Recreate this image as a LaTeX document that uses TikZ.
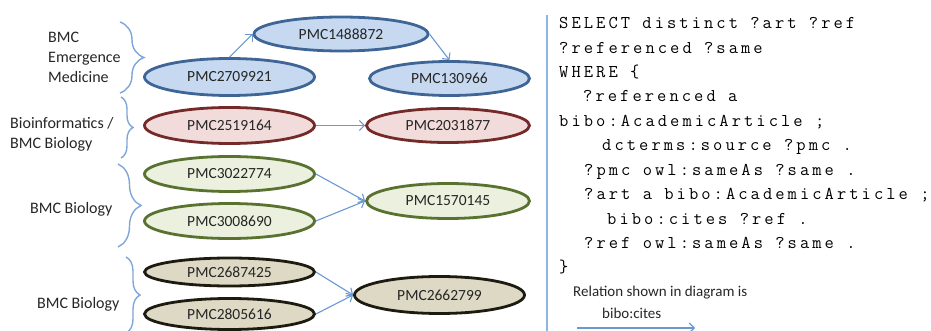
\documentclass[tikz,border=0pt]{standalone}
\usepackage{fontspec}
\setmainfont{Carlito}
\newfontfamily\codefont[LetterSpace=17]{Latin Modern Mono}
\usetikzlibrary{shapes.geometric,arrows.meta,decorations.pathreplacing}
\definecolor{bfill}{HTML}{C6D9F1}
\definecolor{bdraw}{HTML}{3E6596}
\definecolor{rfill}{HTML}{F2DCDB}
\definecolor{rdraw}{HTML}{732A28}
\definecolor{gfill}{HTML}{EBF1DE}
\definecolor{gdraw}{HTML}{5A7230}
\definecolor{tfill}{HTML}{DDD9C4}
\definecolor{tdraw}{HTML}{1D1B10}
\definecolor{arrowc}{HTML}{6A98D2}
\definecolor{bracec}{HTML}{7FA6D9}
\definecolor{sepc}{HTML}{8EB4E3}
\definecolor{txt}{HTML}{262626}
\tikzset{
  pmc/.style={ellipse, line width=2.8pt, inner sep=0pt, text=txt,
    font=\fontsize{15.5}{18}\selectfont},
  bluenode/.style={pmc, draw=bdraw, fill=bfill},
  rednode/.style={pmc, draw=rdraw, fill=rfill},
  greennode/.style={pmc, draw=gdraw, fill=gfill},
  tannode/.style={pmc, draw=tdraw, fill=tfill},
  cite/.style={draw=arrowc, line width=1.1pt, -{Straight Barb[length=5pt,width=10pt]}},
  bracestyle/.style={draw=bracec, line width=1.4pt, decorate},
  lab/.style={anchor=base west, inner sep=0pt, text=txt, font=\fontsize{16}{19}\selectfont},
  code/.style={anchor=base west, inner sep=0pt, text=black, font=\codefont\fontsize{18}{24}\selectfont},
  note/.style={anchor=base west, inner sep=0pt, text=txt, font=\fontsize{15}{18}\selectfont},
}
\begin{document}
\begin{tikzpicture}[x=1pt,y=-1pt]
\useasboundingbox (0,0) rectangle (931,331);
% ellipses
\node[bluenode, minimum width=174pt, minimum height=34pt] (A1) at (341,34) {PMC1488872};
\node[bluenode, minimum width=170pt, minimum height=37pt] (A2) at (229.5,77) {PMC2709921};
\node[bluenode, minimum width=160pt, minimum height=34pt] (A3) at (449.5,78.5) {PMC130966};
\node[rednode, minimum width=170pt, minimum height=36pt] (R1) at (229.5,125.5) {PMC2519164};
\node[rednode, minimum width=163pt, minimum height=34pt] (R2) at (448,125.5) {PMC2031877};
\node[greennode, minimum width=170pt, minimum height=35pt] (G1) at (229.5,174) {PMC3022774};
\node[greennode, minimum width=170pt, minimum height=35pt] (G2) at (229.5,221) {PMC3008690};
\node[greennode, minimum width=163pt, minimum height=35pt] (G3) at (448,201) {PMC1570145};
\node[tannode, minimum width=170pt, minimum height=28pt] (T1) at (229.5,272) {PMC2687425};
\node[tannode, minimum width=170pt, minimum height=31pt] (T2) at (229.5,314) {PMC2805616};
\node[tannode, minimum width=170pt, minimum height=37pt] (T3) at (439.5,295) {PMC2662799};
% citations
\draw[cite] (A2.north) -- (A1.west);
\draw[cite] (A1.east) -- (A3.north);
\draw[cite] (R1.east) -- (R2.west);
\draw[cite] (G1.east) -- (G3.west);
\draw[cite] (G2.east) -- (G3.west);
\draw[cite] (T1.east) -- (T3.west);
\draw[cite] (T2.east) -- (T3.west);
% braces
\draw[bracestyle, decoration={brace, amplitude=24pt}] (120,22) -- (120,93);
\draw[bracestyle, decoration={brace, amplitude=12pt}] (121,97) -- (121,158);
\draw[bracestyle, decoration={brace, amplitude=23pt}] (118,164) -- (118,247);
\draw[bracestyle, decoration={brace, amplitude=14pt}] (126,257) -- (126,333);
% group labels
\node[lab] (l1a) at (48,43) {BMC};
\node[lab] (l1b) at (48,63) {Emergence};
\node[lab] (l1c) at (48,83) {Medicine};
\node[lab] (l2a) at (10,128.5) {Bioinformatics /};
\node[lab] (l2b) at (10,148.5) {BMC Biology};
\node[lab] (l3) at (30,213) {BMC Biology};
\node[lab] (l4) at (37,308) {BMC Biology};
% separator
\coordinate (s1) at (547,15);
\coordinate (s2) at (547,331);
\draw[sepc, line width=2pt] (s1) -- (s2);
% code
\node[code] (c1) at (559,29) {SELECT distinct ?art ?ref};
\node[code] (c2) at (559,53.5) {?referenced ?same};
\node[code] (c3) at (559,78) {WHERE \{};
\node[code] (c4) at (583,102) {?referenced a};
\node[code] (c5) at (559,126.5) {bibo:AcademicArticle ;};
\node[code] (c6) at (602,151) {dcterms:source ?pmc .};
\node[code] (c7) at (584,175.5) {?pmc owl:sameAs ?same .};
\node[code] (c8) at (584,200) {?art a bibo:AcademicArticle ;};
\node[code] (c9) at (607,224) {bibo:cites ?ref .};
\node[code] (c10) at (584,248) {?ref owl:sameAs ?same .};
\node[code] (c11) at (559,272) {\}};
% note
\node[note] (n1) at (573,296) {Relation shown in diagram is};
\node[note] (n2) at (602,318) {bibo:cites};
\coordinate (k1) at (577,328);
\coordinate (k2) at (695,328);
\draw[cite] (k1) -- (k2);
\end{tikzpicture}
\end{document}
